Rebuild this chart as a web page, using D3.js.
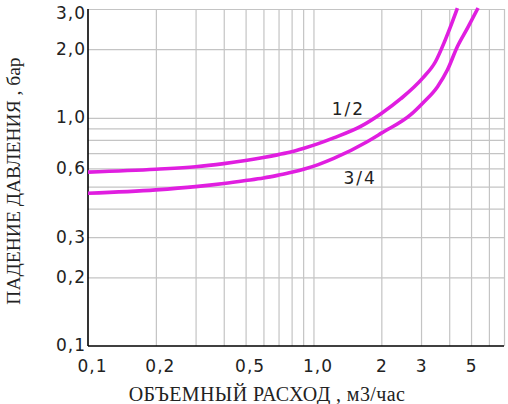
<!DOCTYPE html>
<html>
<head>
<meta charset="utf-8">
<script src="https://cdn.jsdelivr.net/npm/d3@7"></script>
<style>
  body { margin: 0; background: #fff; }
  svg { display: block; }
</style>
</head>
<body>
<div id="chart"></div>
<script>
// flow, m3/h  ->  pressure drop, bar
const flow12 = [0.1, 0.2, 0.3, 0.4, 0.5, 0.6, 0.7, 0.8, 0.9, 1.05, 1.23, 1.62, 2.0, 2.44, 3.05, 3.48, 3.79, 4.03, 4.35];
const drop12 = [0.578, 0.595, 0.61, 0.63, 0.65, 0.67, 0.69, 0.71, 0.734, 0.771, 0.817, 0.917, 1.045, 1.213, 1.493, 1.766, 2.127, 2.475, 3.03];
const flow34 = [0.1, 0.2, 0.3, 0.4, 0.5, 0.6, 0.7, 0.8, 0.92, 1.05, 1.23, 1.73, 2.0, 2.7, 3.05, 3.55, 3.93, 4.35, 4.82, 5.37];
const drop34 = [0.467, 0.4835, 0.4995, 0.5155, 0.531, 0.545, 0.561, 0.577, 0.598, 0.624, 0.664, 0.786, 0.857, 1.033, 1.16, 1.37, 1.624, 2.055, 2.473, 3.03];

const xGrid = [0.2, 0.3, 0.4, 0.5, 0.6, 0.7, 0.8, 0.9, 1, 2, 3, 4, 5, 6, 7];
const yGrid = [0.2, 0.3, 0.4, 0.5, 0.6, 0.7, 0.8, 0.9, 1, 2, 3];
const xTicks = [0.1, 0.2, 0.5, 1, 2, 3, 5];
const xTickLabels = ["0,1", "0,2", "0,5", "1,0", "2", "3", "5"];
const yTicks = [0.1, 0.2, 0.3, 0.6, 1, 2, 3];
const yTickLabels = ["0,1", "0,2", "0,3", "0,6", "1,0", "2,0", "3,0"];

const seriesNames = ["1/2", "3/4"];
const seriesLabelAt = [[1.43, 1.03], [1.61, 0.513]];

const xTitle = "ОБЪЕМНЫЙ РАСХОД , м3/час";
const yTitle = "ПАДЕНИЕ ДАВЛЕНИЯ , бар";

const W = 508, H = 404;
const plotLeft = 88, plotRight = 504, plotTop = 9, plotBottom = 346;
const lineColor = "#e01ee0";

const svg = d3.select("#chart").append("svg")
    .attr("width", W)
    .attr("height", H);

const x = d3.scaleLog().domain([0.1, 7]).range([plotLeft, plotRight]);
const y = d3.scaleLog().domain([0.1, 3]).range([plotBottom, plotTop]);

// grid
svg.append("g")
    .attr("transform", "translate(0," + plotBottom + ")")
    .call(d3.axisBottom(x).tickValues(xGrid).tickSize(-(plotBottom - plotTop)).tickFormat(""))
    .call(g => g.select(".domain").remove())
    .call(g => g.selectAll("line").attr("stroke", "#c4c4c4").attr("stroke-width", 1.2));

svg.append("g")
    .attr("transform", "translate(" + plotLeft + ",0)")
    .call(d3.axisLeft(y).tickValues(yGrid).tickSize(-(plotRight - plotLeft)).tickFormat(""))
    .call(g => g.select(".domain").remove())
    .call(g => g.selectAll("line").attr("stroke", "#c4c4c4").attr("stroke-width", 1.2));

// axis lines
svg.append("line")
    .attr("x1", plotLeft).attr("x2", plotLeft).attr("y1", plotTop).attr("y2", plotBottom)
    .attr("stroke", "#000").attr("stroke-width", 1.6);
svg.append("line")
    .attr("x1", plotLeft).attr("x2", plotRight).attr("y1", plotBottom).attr("y2", plotBottom)
    .attr("stroke", "#000").attr("stroke-width", 1.6);

// tick labels
const tickFont = "'DejaVu Sans', Verdana, sans-serif";
svg.append("g")
    .attr("transform", "translate(0," + plotBottom + ")")
    .call(d3.axisBottom(x).tickValues(xTicks).tickSize(0).tickPadding(0)
        .tickFormat((d, i) => xTickLabels[i]))
    .call(g => g.select(".domain").remove())
    .call(g => g.selectAll("text")
        .attr("y", 26)
        .attr("dy", 0)
        .attr("dx", (d, i) => xTickLabels[i].length > 1 ? 4 : 0)
        .attr("fill", "#222")
        .style("font-family", tickFont)
        .style("font-size", "17px")
        .style("letter-spacing", "1px"));

svg.append("g")
    .attr("transform", "translate(86,0)")
    .call(d3.axisLeft(y).tickValues(yTicks).tickSize(0).tickPadding(0)
        .tickFormat((d, i) => yTickLabels[i]))
    .call(g => g.select(".domain").remove())
    .call(g => g.selectAll(".tick")
        .attr("transform", d => "translate(0," + Math.max(y(d), 14) + ")"))
    .call(g => g.selectAll("text")
        .attr("fill", "#222")
        .style("font-family", tickFont)
        .style("font-size", "17px")
        .style("letter-spacing", "1px"));

// curves
const line = d3.line()
    .x(d => x(d[0]))
    .y(d => y(d[1]))
    .curve(d3.curveMonotoneX);

const series = [d3.zip(flow12, drop12), d3.zip(flow34, drop34)];
svg.append("g").selectAll("path")
    .data(series)
    .join("path")
    .attr("d", line)
    .attr("fill", "none")
    .attr("stroke", lineColor)
    .attr("stroke-width", 3.6)
    .attr("stroke-linejoin", "round");

svg.append("g").selectAll("text")
    .data(seriesNames)
    .join("text")
    .attr("x", (d, i) => x(seriesLabelAt[i][0]))
    .attr("y", (d, i) => y(seriesLabelAt[i][1]))
    .attr("text-anchor", "middle")
    .attr("fill", "#222")
    .style("font-family", tickFont)
    .style("font-size", "17px")
    .style("letter-spacing", "2px")
    .text(d => d);

// titles
const titleFont = "'Liberation Serif', 'Times New Roman', serif";
svg.append("text")
    .attr("x", 267)
    .attr("y", 401)
    .attr("text-anchor", "middle")
    .attr("fill", "#222")
    .style("font-family", titleFont)
    .style("font-size", "20px")
    .style("letter-spacing", "0.4px")
    .text(xTitle);

svg.append("text")
    .attr("transform", "translate(20,181) rotate(-90)")
    .attr("text-anchor", "middle")
    .attr("fill", "#222")
    .style("font-family", titleFont)
    .style("font-size", "19.5px")
    .text(yTitle);
</script>
</body>
</html>
